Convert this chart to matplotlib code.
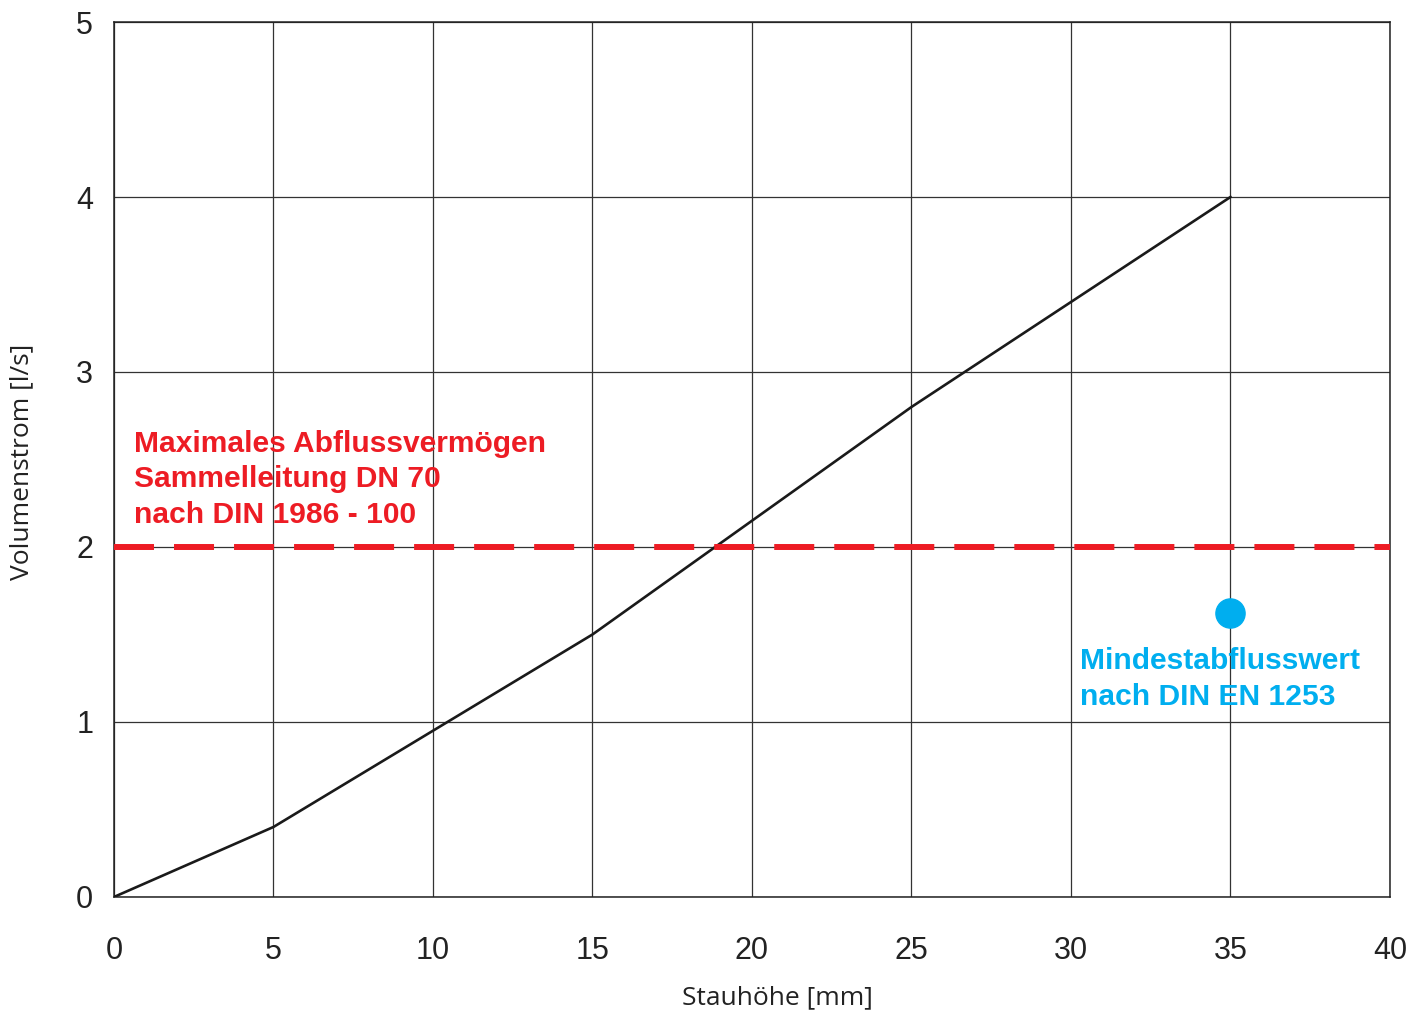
import matplotlib
matplotlib.use("Agg")
import matplotlib.pyplot as plt

# data
stau_mm = [0, 5, 10, 15, 20, 25, 30, 35]
volumen_ls = [0.0, 0.40, 0.95, 1.50, 2.15, 2.80, 3.40, 4.00]
max_abfluss = 2.0
mindest_x = 35
mindest_y = 1.62

x_ticks = [0, 5, 10, 15, 20, 25, 30, 35, 40]
y_ticks = [0, 1, 2, 3, 4, 5]

RED = '#ED1C24'
BLUE = '#00AEEF'

plt.rcParams['font.family'] = ['Liberation Sans', 'DejaVu Sans']

fig = plt.figure(figsize=(14.25, 10.15), dpi=100)
ax = fig.add_axes([0.08, 0.1163, 0.8954, 0.862])

ax.set_xlim(0, 40)
ax.set_ylim(0, 5)
ax.set_xticks(x_ticks)
ax.set_yticks(y_ticks)
ax.tick_params(length=0, labelsize=22, colors='#222222')
ax.tick_params(axis='x', pad=28)
ax.tick_params(axis='y', pad=15)
ax.grid(True, color='#333333', linewidth=0.9)
ax.set_axisbelow(True)
for spine in ax.spines.values():
    spine.set_linewidth(1.1)
    spine.set_color('#222222')

ax.plot(stau_mm, volumen_ls, color='#1a1a1a', linewidth=1.9, zorder=3)

ax.axhline(max_abfluss, color=RED, linewidth=4.3, dashes=(6.7, 3.35),
           solid_capstyle='butt', dash_capstyle='butt', zorder=4)

ax.plot([mindest_x], [mindest_y], 'o', color=BLUE, markersize=21, zorder=5,
        clip_on=False)

ax.text(0.63, 2.137, 'Maximales Abflussvermögen\nSammelleitung DN 70\nnach DIN 1986 - 100',
        color=RED, fontsize=21.6, fontweight='bold', va='baseline', ha='left',
        linespacing=1.35, zorder=6)
ax.text(30.28, 1.097, 'Mindestabflusswert\nnach DIN EN 1253',
        color=BLUE, fontsize=21.6, fontweight='bold', va='baseline', ha='left',
        linespacing=1.35, zorder=6)

ax.set_xlabel('Stauhöhe [mm]', fontsize=19, family='Open Sans',
              color='#222222', va='center', ha='center')
ax.xaxis.set_label_coords(0.52, -0.1154)
ax.set_ylabel('Volumenstrom [l/s]', fontsize=19, family='Open Sans',
              color='#222222', va='center', ha='center')
ax.yaxis.set_label_coords(-0.0721, 0.497)

fig.savefig('out.png', dpi=100)
